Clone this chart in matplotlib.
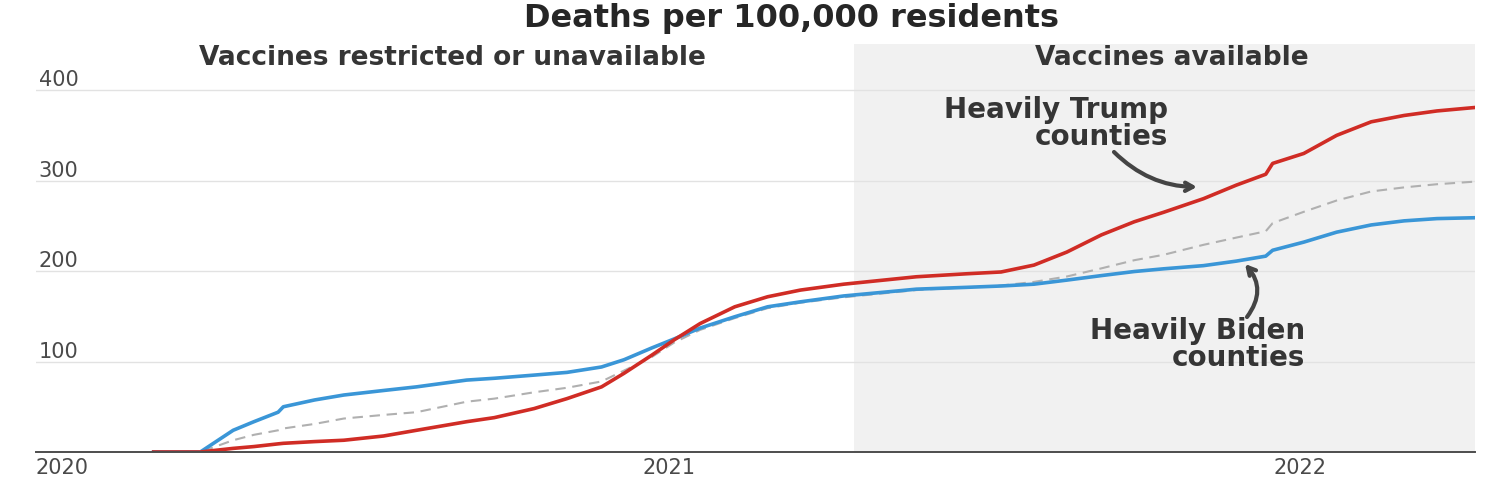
import matplotlib
matplotlib.use("Agg")
import matplotlib.pyplot as plt
import pandas as pd

# ---------------- data ----------------
dates = ["2020-03-08", "2020-04-05", "2020-04-24", "2020-05-06", "2020-05-20",
         "2020-05-23", "2020-06-10", "2020-06-27", "2020-07-20", "2020-08-08",
         "2020-09-06", "2020-09-22", "2020-10-15", "2020-11-03", "2020-11-23",
         "2020-12-06", "2020-12-22", "2021-01-04", "2021-01-19", "2021-02-08",
         "2021-02-27", "2021-03-18", "2021-04-12", "2021-05-24", "2021-06-22",
         "2021-07-12", "2021-07-31", "2021-08-19", "2021-09-08", "2021-09-27",
         "2021-10-14", "2021-11-06", "2021-11-25", "2021-12-12", "2021-12-16",
         "2022-01-03", "2022-01-22", "2022-02-11", "2022-03-02", "2022-03-21",
         "2022-04-13"]
biden = [0, 0, 24, 33.5, 44, 50, 57.5, 63, 68, 72,
         79.5, 81.5, 85, 88, 94, 102, 115, 125, 137, 149.5,
         160.5, 166, 172.5, 180, 182, 183.5, 185.5, 190, 195, 199.5,
         202.5, 206, 211, 216.5, 223, 232, 243, 251, 255.5, 258,
         259]
trump = [0, 0, 4, 6, 9, 9.6, 11.5, 13, 17.7, 24,
         33.5, 38, 48, 59, 72, 87, 107, 124, 142, 160.5,
         171.6, 179, 185.5, 193.7, 197, 199, 206.6, 221, 240, 254.5,
         265, 280, 295, 307, 319, 330, 350, 365, 372, 377,
         381]
overall = [0, 0, 13, 19, 24, 26, 31, 37, 41, 44,
           55.6, 59, 66, 71, 78, 90, 105, 121, 135, 148,
           159, 165, 171, 179, 182, 184, 188, 194, 203, 212,
           218, 229, 237, 244, 253, 265.5, 278, 288, 292.5, 296,
           299]

title = "Deaths per 100,000 residents"
period_labels = ["Vaccines restricted or unavailable", "Vaccines available"]
vaccine_date = "2021-04-18"
x_range = ["2020-01-01", "2022-04-12"]
y_range = [0, 451]
yticks = [100, 200, 300, 400]
xticks = ["2020-01-01", "2021-01-01", "2022-01-01"]
xtick_labels = ["2020", "2021", "2022"]
trump_label = "Heavily Trump\ncounties"
biden_label = "Heavily Biden\ncounties"

# ---------------- style ----------------
RED = "#d02c25"
BLUE = "#3a96d7"
GRAYLINE = "#b0b0b0"
SHADE = "#f1f1f1"
TEXT = "#353535"
TICK = "#4a4a4a"
W, H = 1500, 500

plt.rcParams['font.family'] = ['DejaVu Sans']

x = pd.to_datetime(dates)
fig = plt.figure(figsize=(15, 5), dpi=100)
ax = fig.add_axes([36 / W, 48 / H, 1439 / W, 408 / H])

ax.set_xlim(pd.to_datetime(x_range[0]), pd.to_datetime(x_range[1]))
ax.set_ylim(*y_range)

ax.axvspan(pd.to_datetime(vaccine_date), pd.to_datetime(x_range[1]),
           color=SHADE, zorder=0, lw=0)

ax.plot(x, overall, color=GRAYLINE, lw=1.5, dashes=(5, 3.2), zorder=2)
ax.plot(x, biden, color=BLUE, lw=2.6, zorder=3, solid_capstyle='butt',
        solid_joinstyle='round')
ax.plot(x, trump, color=RED, lw=2.6, zorder=4, solid_capstyle='butt',
        solid_joinstyle='round')

# grid / spines
ax.set_yticks(yticks, [str(v) for v in yticks])
ax.yaxis.grid(True, color="#e2e2e2", lw=1.0, zorder=1)
ax.set_axisbelow(True)
for s in ["top", "right", "left"]:
    ax.spines[s].set_visible(False)
ax.spines["bottom"].set_color("#4d4d4d")
ax.spines["bottom"].set_linewidth(1.4)
ax.spines["bottom"].set_zorder(5)

ax.tick_params(axis='y', length=0, pad=-2, labelsize=15, labelcolor=TICK)
for lab in ax.get_yticklabels():
    lab.set_horizontalalignment('left')
    lab.set_verticalalignment('bottom')

ax.set_xticks(pd.to_datetime(xticks), xtick_labels)
ax.tick_params(axis='x', length=0, pad=4, labelsize=15, labelcolor=TICK)
xl = ax.get_xticklabels()
xl[0].set_horizontalalignment('left')

# titles
fig.text(791 / W, 1 - 27 / H, title, ha='center', va='baseline',
         fontsize=23, fontweight='bold', color="#262626")
fig.text(452 / W, 1 - 65 / H, period_labels[0], ha='center', va='baseline',
         fontsize=19, fontweight='bold', color=TEXT)
fig.text(1172 / W, 1 - 65 / H, period_labels[1], ha='center', va='baseline',
         fontsize=19, fontweight='bold', color=TEXT)

# annotations
fig.text(1168 / W, 1 - 145 / H, trump_label, ha='right', va='baseline',
         multialignment='right', fontsize=20, fontweight='bold', color=TEXT,
         linespacing=0.95)
fig.text(1305 / W, 1 - 366 / H, biden_label, ha='right', va='baseline',
         multialignment='right', fontsize=20, fontweight='bold', color=TEXT,
         linespacing=0.95)

ax.annotate("", xy=(1197, H - 187), xycoords='figure pixels',
            xytext=(1114, H - 152), textcoords='figure pixels',
            arrowprops=dict(arrowstyle="->,head_length=0.55,head_width=0.3",
                            color="#444444", lw=3, shrinkA=0, shrinkB=0,
                            connectionstyle="arc3,rad=0.2"))
ax.annotate("", xy=(1245, H - 264), xycoords='figure pixels',
            xytext=(1247, H - 317), textcoords='figure pixels',
            arrowprops=dict(arrowstyle="->,head_length=0.55,head_width=0.3",
                            color="#444444", lw=3, shrinkA=0, shrinkB=0,
                            connectionstyle="arc3,rad=0.4"))

fig.savefig("out.png", dpi=100, facecolor="white")
